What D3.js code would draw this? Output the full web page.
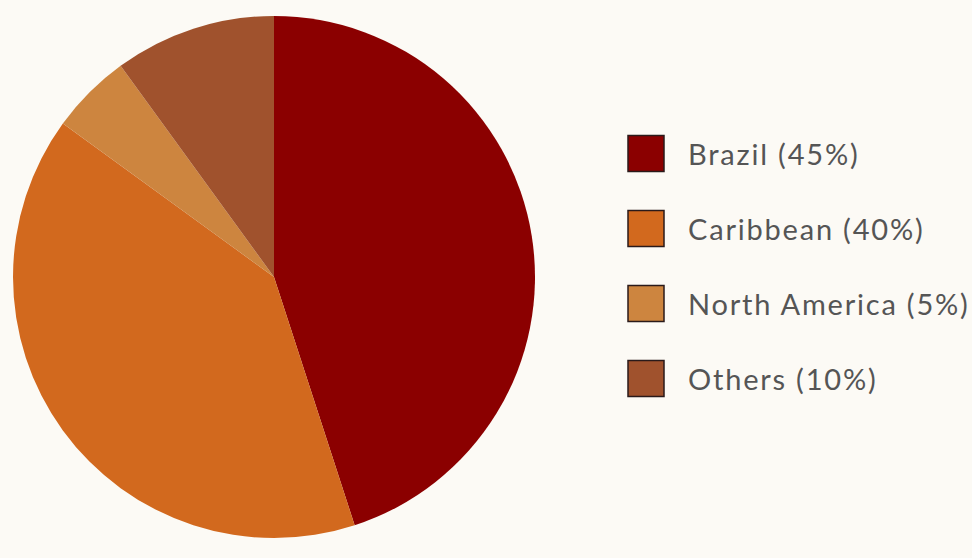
<!DOCTYPE html>
<html>
<head>
<meta charset="utf-8">
<script src="https://cdn.jsdelivr.net/npm/d3@7"></script>
<style>
  html, body { margin: 0; padding: 0; background: #fcfaf5; }
  svg { display: block; }
</style>
</head>
<body>
<div id="chart"></div>
<script>
// ! Data
var regions = ["Brazil", "Caribbean", "North America", "Others"];
var shares = [45, 40, 5, 10];
var colours = ["#8b0000", "#d2691e", "#cd853f", "#a0522d"];

// ! Parameters
var width = 972,
    height = 558,
    pie_cx = 274,
    pie_cy = 277,
    radius = 261;

var svg = d3.select("#chart")
  .append("svg")
  .attr("width", width)
  .attr("height", height);

var data = regions.map(function (d, i) {
  return { region: d, share: shares[i] };
});

var colour = d3.scaleOrdinal()
  .domain(regions)
  .range(colours);

var pie = d3.pie()
  .sort(null)
  .value(function (d) { return d.share; });

var arc = d3.arc()
  .innerRadius(0)
  .outerRadius(radius);

svg.append("g")
  .attr("transform", "translate(" + pie_cx + "," + pie_cy + ")")
  .selectAll("path")
  .data(pie(data))
  .enter()
  .append("path")
  .attr("d", arc)
  .attr("fill", function (d) { return colour(d.data.region); });

// ! Legend
var legend_y = d3.scalePoint()
  .domain(regions)
  .range([153.5, 378.5]);

var legend = svg.append("g")
  .selectAll("g")
  .data(data)
  .enter()
  .append("g")
  .attr("transform", function (d) { return "translate(628," + legend_y(d.region) + ")"; });

legend.append("rect")
  .attr("x", 0)
  .attr("y", -18)
  .attr("width", 36)
  .attr("height", 36)
  .attr("fill", function (d) { return colour(d.region); })
  .attr("stroke", "#2a1a1a")
  .attr("stroke-width", 1.5);

legend.append("text")
  .attr("x", 60)
  .attr("y", 11.5)
  .style("font-family", "Lato, sans-serif")
  .style("font-size", "29px")
  .style("letter-spacing", "1.8px")
  .style("fill", "#555")
  .text(function (d) { return d.region + " (" + d.share + "%)"; });
</script>
</body>
</html>
